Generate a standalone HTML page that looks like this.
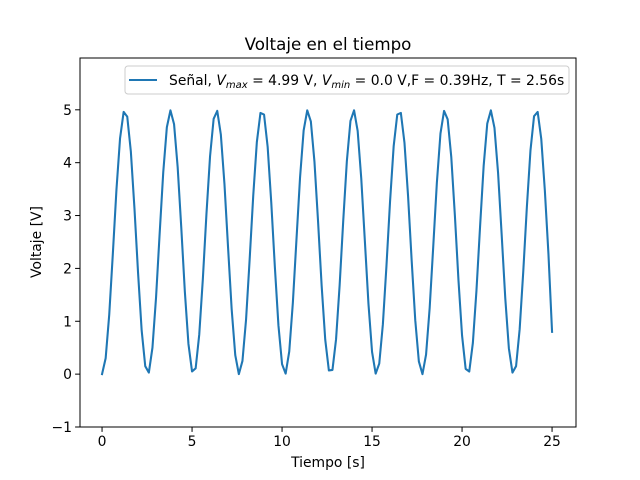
<!DOCTYPE html>
<html><head><meta charset="utf-8"><style>
body{margin:0;background:#fff}
svg{display:block;font-family:"DejaVu Sans","Liberation Sans",sans-serif}
</style></head><body>
<svg id="chart" width="640" height="480">
<rect width="640" height="480" fill="#fff"/>
<text x="328" y="50" font-size="16.7" text-anchor="middle">Voltaje en el tiempo</text>
<g id="plot"></g>
<rect x="80" y="58" width="496" height="369" fill="none" stroke="#000" stroke-width="1"/>
<text x="328" y="467" font-size="13.9" text-anchor="middle">Tiempo [s]</text>
<text transform="translate(41,242) rotate(-90)" font-size="13.9" text-anchor="middle">Voltaje [V]</text>
<g>
<rect x="125" y="66" width="444" height="28" rx="3" fill="#fff" fill-opacity="0.8" stroke="#ccc"/>
<line x1="129" y1="80" x2="157" y2="80" stroke="#1f77b4" stroke-width="2.08"/>
<text x="169" y="85" font-size="13.9">Señal, <tspan font-style="italic">V</tspan><tspan font-style="italic" font-size="10" dy="3">max</tspan><tspan dy="-3"> = 4.99 V, </tspan><tspan font-style="italic">V</tspan><tspan font-style="italic" font-size="10" dy="3">min</tspan><tspan dy="-3"> = 0.0 V,F = 0.39Hz, T = 2.56s</tspan></text>
</g>
</svg>
<script>
const xTicks=[0,5,10,15,20,25];
const yTicks=[-1,0,1,2,3,4,5];
const tStep=0.2;
const voltage=[0,.30,1.13,2.28,3.49,4.46,4.96,4.87,4.21,3.14,1.92,.83,.15,.03,.50,1.45,2.66,3.82,4.67,4.99,4.73,3.92,2.78,1.56,.57,.05,.11,.75,1.80,3.03,4.12,4.83,4.98,4.53,3.60,2.40,1.23,.36,0,.25,1.03,2.17,3.38,4.39,4.94,4.91,4.30,3.25,2.03,.92,.19,.01,.43,1.35,2.54,3.72,4.61,4.99,4.78,4.02,2.89,1.67,.65,.07,.08,.66,1.69,2.91,4.03,4.79,4.99,4.60,3.70,2.52,1.33,.42,.01,.20,.94,2.05,3.27,4.31,4.91,4.94,4.38,3.37,2.15,1.02,.24,0,.37,1.25,2.42,3.62,4.55,4.98,4.82,4.11,3.01,1.78,.73,.10,.05,.59,1.58,2.79,3.94,4.74,4.99,4.66,3.81,2.64,1.44,.49,.03,.15,.85,1.94,3.16,4.23,4.88,4.96,4.45,3.47,2.27,.80];
const X0=80,X1=576,Y0=427,Y1=58,xmin=-1.225,xmax=26.33,ymin=-1,ymax=5.98;
const sx=v=>X0+(v-xmin)/(xmax-xmin)*(X1-X0);
const sy=v=>Y0-(v-ymin)/(ymax-ymin)*(Y0-Y1);
const NS="http://www.w3.org/2000/svg";
const g=document.getElementById('plot');
function mk(t,a){const e=document.createElementNS(NS,t);for(const k in a)e.setAttribute(k,a[k]);g.appendChild(e);return e;}
xTicks.forEach(v=>{
  const l=mk('line',{x1:sx(v),x2:sx(v),y1:Y0,y2:Y0+4.9,stroke:'#000'});
  
  
  const t=mk('text',{x:sx(v),y:Y0+19,'font-size':13.9,'text-anchor':'middle'});
  t.textContent=v;
  
  
});
yTicks.forEach(v=>{
  const l=mk('line',{x1:X0-4.9,x2:X0,y1:sy(v),y2:sy(v),stroke:'#000'});
  
  
  const t=mk('text',{x:X0-8,y:sy(v)+5,'font-size':13.9,'text-anchor':'end'});
  t.textContent=v<0?'\u2212'+(-v):v;
  
  
});
const pts=voltage.map((v,i)=>sx(i*tStep).toFixed(2)+','+sy(v).toFixed(2)).join(' ');
const line=mk('polyline',{points:pts,fill:'none',stroke:'#1f77b4','stroke-width':2.08,'stroke-linejoin':'round','stroke-linecap':'square'});


</script>
</body></html>
